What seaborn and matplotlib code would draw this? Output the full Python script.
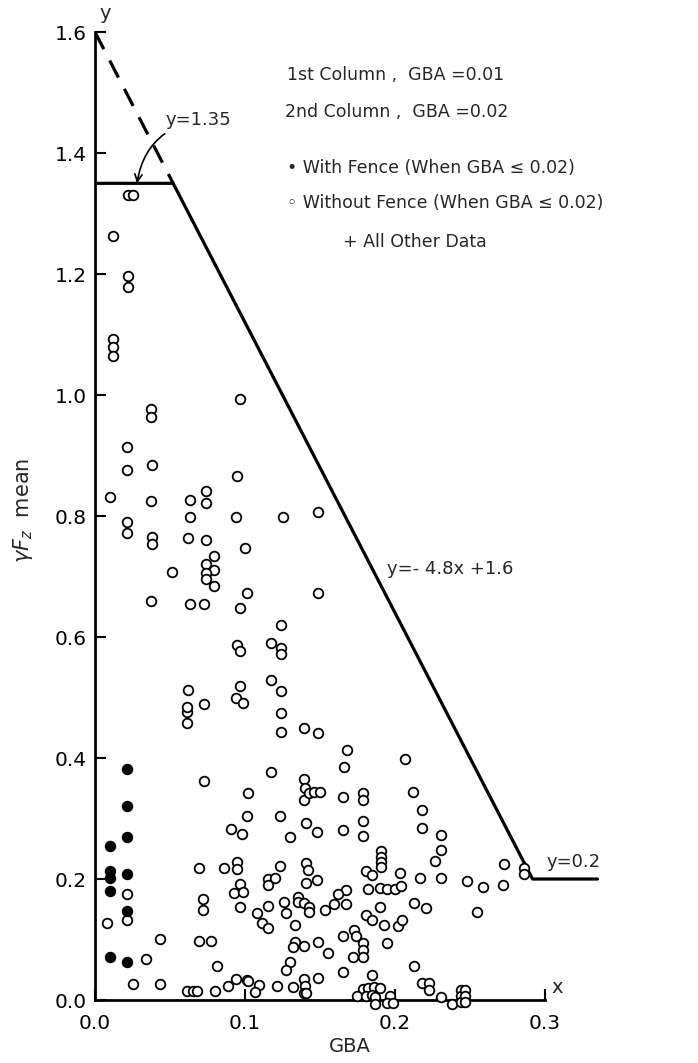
import numpy as np
import pandas as pd
import matplotlib
matplotlib.use("Agg")
import matplotlib.pyplot as plt
import seaborn as sns

# with fence, GBA <= 0.02 (filled)
fence_x = [0.010, 0.010, 0.010, 0.010, 0.010,
           0.021, 0.021, 0.021, 0.021, 0.021, 0.021]
fence_y = [0.255, 0.213, 0.202, 0.180, 0.071,
           0.382, 0.321, 0.269, 0.208, 0.147, 0.063]

# without fence, GBA <= 0.02 (open)
nofence_x = [0.012, 0.012, 0.012, 0.012, 0.010, 0.008,
             0.022, 0.025, 0.022, 0.022, 0.021, 0.021, 0.021, 0.021, 0.021, 0.021]
nofence_y = [1.263, 1.092, 1.079, 1.065, 0.831, 0.127,
             1.330, 1.330, 1.197, 1.178, 0.914, 0.876, 0.790, 0.772, 0.175, 0.132]

# all other data
other_x = [0.037, 0.037, 0.038, 0.037, 0.038, 0.038, 0.037, 0.025, 0.034, 0.043,
           0.043, 0.061, 0.065, 0.068, 0.069, 0.072, 0.072, 0.069, 0.077, 0.081,
           0.080, 0.089, 0.094, 0.101, 0.073, 0.061, 0.061, 0.061, 0.062, 0.073,
           0.094, 0.099, 0.091, 0.098, 0.101, 0.102, 0.086, 0.095, 0.095, 0.097,
           0.093, 0.099, 0.097, 0.063, 0.063, 0.062, 0.063, 0.074, 0.074, 0.074,
           0.079, 0.074, 0.079, 0.074, 0.074, 0.079, 0.073, 0.051, 0.095, 0.094,
           0.100, 0.101, 0.097, 0.095, 0.097, 0.097, 0.097, 0.125, 0.149, 0.149,
           0.124, 0.117, 0.124, 0.124, 0.117, 0.124, 0.124, 0.124, 0.139, 0.149,
           0.168, 0.166, 0.117, 0.139, 0.140, 0.139, 0.143, 0.146, 0.150, 0.165,
           0.179, 0.179, 0.123, 0.141, 0.148, 0.130, 0.165, 0.179, 0.179, 0.191,
           0.191, 0.191, 0.191, 0.123, 0.141, 0.142, 0.115, 0.120, 0.115, 0.148,
           0.141, 0.181, 0.185, 0.203, 0.182, 0.190, 0.195, 0.200, 0.204, 0.167,
           0.162, 0.167, 0.159, 0.153, 0.115, 0.108, 0.126, 0.127, 0.135, 0.135,
           0.139, 0.143, 0.143, 0.190, 0.181, 0.185, 0.193, 0.202, 0.111, 0.115,
           0.133, 0.173, 0.174, 0.165, 0.179, 0.179, 0.179, 0.149, 0.155, 0.133,
           0.139, 0.132, 0.195, 0.172, 0.130, 0.127, 0.165, 0.185, 0.149, 0.139,
           0.140, 0.132, 0.139, 0.141, 0.121, 0.109, 0.107, 0.102, 0.179, 0.182,
           0.186, 0.190, 0.175, 0.181, 0.185, 0.187, 0.187, 0.197, 0.195, 0.199,
           0.207, 0.212, 0.218, 0.218, 0.231, 0.231, 0.227, 0.231, 0.217, 0.248,
           0.259, 0.272, 0.273, 0.286, 0.286, 0.255, 0.213, 0.221, 0.205, 0.213,
           0.218, 0.223, 0.223, 0.231, 0.238, 0.244, 0.244, 0.244, 0.247, 0.247,
           0.247]
other_y = [0.977, 0.964, 0.884, 0.825, 0.765, 0.754, 0.660, 0.026, 0.068, 0.101,
           0.026, 0.015, 0.015, 0.015, 0.218, 0.167, 0.149, 0.098, 0.098, 0.056,
           0.015, 0.023, 0.035, 0.033, 0.362, 0.458, 0.476, 0.484, 0.512, 0.489,
           0.499, 0.491, 0.283, 0.274, 0.304, 0.342, 0.218, 0.228, 0.217, 0.192,
           0.177, 0.179, 0.154, 0.826, 0.798, 0.764, 0.655, 0.841, 0.821, 0.760,
           0.734, 0.721, 0.711, 0.706, 0.696, 0.684, 0.655, 0.707, 0.866, 0.798,
           0.747, 0.673, 0.648, 0.587, 0.577, 0.519, 0.993, 0.798, 0.807, 0.673,
           0.620, 0.590, 0.582, 0.572, 0.529, 0.511, 0.474, 0.443, 0.450, 0.441,
           0.413, 0.385, 0.377, 0.365, 0.350, 0.331, 0.342, 0.344, 0.344, 0.336,
           0.342, 0.331, 0.304, 0.293, 0.278, 0.269, 0.281, 0.296, 0.271, 0.246,
           0.236, 0.228, 0.220, 0.221, 0.226, 0.215, 0.200, 0.202, 0.190, 0.198,
           0.193, 0.213, 0.207, 0.210, 0.183, 0.185, 0.183, 0.183, 0.188, 0.182,
           0.175, 0.159, 0.159, 0.149, 0.155, 0.144, 0.162, 0.144, 0.170, 0.162,
           0.160, 0.154, 0.145, 0.154, 0.140, 0.132, 0.124, 0.122, 0.127, 0.119,
           0.124, 0.116, 0.106, 0.106, 0.094, 0.083, 0.071, 0.096, 0.078, 0.096,
           0.089, 0.088, 0.094, 0.071, 0.063, 0.050, 0.046, 0.041, 0.036, 0.035,
           0.023, 0.021, 0.012, 0.012, 0.023, 0.025, 0.013, 0.031, 0.018, 0.020,
           0.021, 0.020, 0.007, 0.007, 0.008, 0.005, -0.007, 0.007, -0.005, -0.005,
           0.398, 0.344, 0.314, 0.284, 0.273, 0.248, 0.230, 0.202, 0.202, 0.197,
           0.187, 0.190, 0.225, 0.218, 0.208, 0.145, 0.160, 0.152, 0.132, 0.056,
           0.028, 0.028, 0.017, 0.005, -0.007, 0.017, 0.007, -0.003, 0.017, 0.007,
           -0.003]

# limit curve: y = 1.35, y = -4.8x + 1.6, y = 0.2
env_x = [0.0, 0.0521, 0.2917, 0.335]
env_y = [1.35, 1.35, 0.2, 0.2]
dash_x = [0.0, 0.0521]
dash_y = [1.6, 1.35]

sns.set_style("white")
plt.rcParams['font.family'] = ['DejaVu Sans']

W, H = 698, 1063
fig = plt.figure(figsize=(W / 100, H / 100), dpi=100)
ax = fig.add_axes([95 / W, 63 / H, 510 / W, 980 / H])

mk = dict(s=48, linewidth=1.3, edgecolor='black', clip_on=False, legend=False, zorder=3)
sns.scatterplot(x=other_x, y=other_y, marker='o', color='white', ax=ax, **mk)
sns.scatterplot(x=nofence_x, y=nofence_y, marker='o', color='white', ax=ax, **mk)
sns.scatterplot(x=fence_x, y=fence_y, marker='o', color='black', ax=ax, **mk)

sns.lineplot(x=env_x, y=env_y, color='black', linewidth=2.3, sort=False,
             estimator=None, ax=ax)
ax.plot(dash_x, dash_y, color='black', linewidth=2.3, dashes=(6, 4))

ax.set_xlim(0, 0.34)
ax.set_ylim(0, 1.62)
for s in ['top', 'right']:
    ax.spines[s].set_visible(False)
ax.spines['left'].set_bounds(0, 1.6)
ax.spines['bottom'].set_bounds(0, 0.3)
for s in ['left', 'bottom']:
    ax.spines[s].set_linewidth(2.0)
    ax.spines[s].set_color('black')

ax.set_xticks([0, 0.1, 0.2, 0.3])
ax.set_xticklabels(['0.0', '0.1', '0.2', '0.3'])
ax.set_yticks(np.arange(0, 1.61, 0.2))
ax.set_yticklabels([f'{v:.1f}' for v in np.arange(0, 1.61, 0.2)])
ax.tick_params(direction='in', length=8, width=1.5, labelsize=14.5, colors='black',
               bottom=True, left=True)
ax.tick_params(axis='x', pad=10)
ax.tick_params(axis='y', pad=6)

ax.set_xlabel('GBA', fontsize=14, labelpad=3)
ax.set_ylabel(r'$\gamma F_z$  mean', fontsize=15, labelpad=14)

ax.text(0.003, 1.615, 'y', fontsize=14, ha='left', va='bottom')
ax.text(0.304, 0.005, 'x', fontsize=14, ha='left', va='bottom')

ax.annotate('y=1.35', xy=(0.028, 1.35), xytext=(0.047, 1.455),
            fontsize=13, va='center', ha='left',
            arrowprops=dict(arrowstyle='->', color='black', lw=1.2,
                            connectionstyle='arc3,rad=0.35', shrinkA=2, shrinkB=0))
ax.text(0.195, 0.712, 'y=- 4.8x +1.6', fontsize=13, va='center', ha='left')
ax.text(0.301, 0.228, 'y=0.2', fontsize=13, va='center', ha='left')

fs = 12.5
fig.text(287 / W, 1 - 75 / H, '1st Column ,  GBA =0.01', fontsize=fs, va='center')
fig.text(285 / W, 1 - 112 / H, '2nd Column ,  GBA =0.02', fontsize=fs, va='center')
fig.text(287 / W, 1 - 168 / H, '\u2022 With Fence (When GBA \u2264 0.02)', fontsize=fs, va='center')
fig.text(287 / W, 1 - 203 / H, '\u25e6 Without Fence (When GBA \u2264 0.02)', fontsize=fs, va='center')
fig.text(343 / W, 1 - 242 / H, '+ All Other Data', fontsize=fs, va='center')

fig.savefig('out.png', dpi=100, facecolor='white')
